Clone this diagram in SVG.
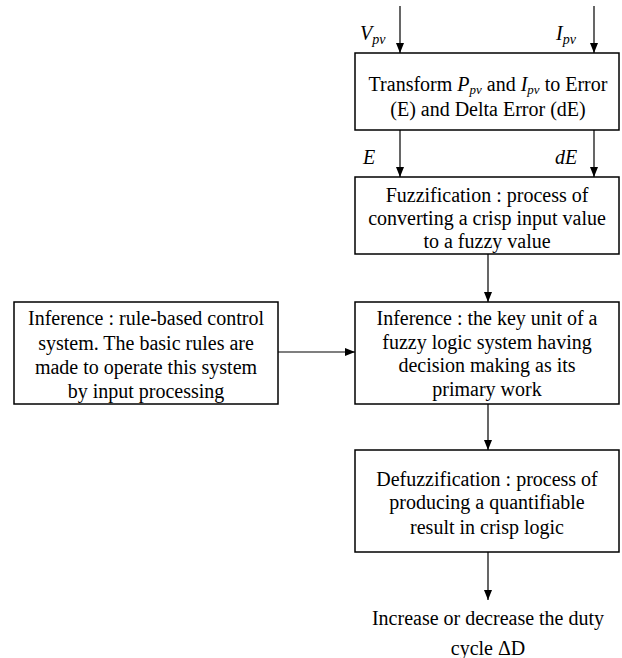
<svg xmlns="http://www.w3.org/2000/svg" width="622" height="658" viewBox="0 0 622 658">
<style>
.box{fill:#fff;stroke:#000;stroke-width:1.5}
.t{font-family:"Liberation Serif","Times New Roman",serif;font-size:20px;fill:#000;text-anchor:middle}
.i{font-family:"Liberation Serif","Times New Roman",serif;font-size:20px;font-style:italic;fill:#000}
.c{stroke:#000;stroke-width:1.2;fill:none;marker-end:url(#ah)}
</style>
<defs>
<marker id="ah" viewBox="0 0 10 10" refX="10" refY="5" markerWidth="10" markerHeight="10" markerUnits="userSpaceOnUse" orient="auto">
<path d="M0,1 L10,5 L0,9 Z" fill="#000"/>
</marker>
</defs>
<g id="connectors">
<line class="c" x1="400" y1="6" x2="400" y2="53"/>
<line class="c" x1="594" y1="6" x2="594" y2="53"/>
<line class="c" x1="400" y1="130" x2="400" y2="177"/>
<line class="c" x1="594" y1="130" x2="594" y2="177"/>
<line class="c" x1="488" y1="254" x2="488" y2="302"/>
<line class="c" x1="278" y1="352" x2="355" y2="352"/>
<line class="c" x1="488" y1="404" x2="488" y2="450"/>
<line class="c" x1="488" y1="552" x2="488" y2="600"/>
<text class="i" x="360" y="40">V<tspan font-size="14" dy="4">pv</tspan></text>
<text class="i" x="556" y="40">I<tspan font-size="14" dy="4">pv</tspan></text>
<text class="i" x="363" y="164">E</text>
<text class="i" x="555" y="164">dE</text>
</g>
<g id="transform">
<rect class="box" x="355" y="53" width="264" height="77"/>
<text class="t" x="488" y="91">Transform <tspan font-style="italic">P</tspan><tspan font-style="italic" font-size="13" dy="3">pv</tspan><tspan dy="-3"> and </tspan><tspan font-style="italic">I</tspan><tspan font-style="italic" font-size="13" dy="3">pv</tspan><tspan dy="-3"> to Error</tspan></text>
<text class="t" x="488" y="116">(E) and Delta Error (dE)</text>
</g>
<g id="fuzzification">
<rect class="box" x="355" y="177" width="264" height="77"/>
<text class="t" x="487" y="202">Fuzzification : process of</text>
<text class="t" x="487" y="225">converting a crisp input value</text>
<text class="t" x="487" y="248">to a fuzzy value</text>
</g>
<g id="rules">
<rect class="box" x="14" y="302" width="264" height="102"/>
<text class="t" x="146" y="325">Inference : rule-based control</text>
<text class="t" x="146" y="350">system. The basic rules are</text>
<text class="t" x="146" y="374">made to operate this system</text>
<text class="t" x="146" y="398">by input processing</text>
</g>
<g id="inference">
<rect class="box" x="355" y="302" width="264" height="102"/>
<text class="t" x="487" y="325">Inference : the key unit of a</text>
<text class="t" x="487" y="349">fuzzy logic system having</text>
<text class="t" x="487" y="372">decision making as its</text>
<text class="t" x="487" y="396">primary work</text>
</g>
<g id="defuzzification">
<rect class="box" x="355" y="450" width="264" height="102"/>
<text class="t" x="487" y="486">Defuzzification : process of</text>
<text class="t" x="487" y="509">producing a quantifiable</text>
<text class="t" x="487" y="534">result in crisp logic</text>
</g>
<g id="output">
<text class="t" x="488" y="625">Increase or decrease the duty</text>
<text class="t" x="488" y="655">cycle ΔD</text>
</g>
</svg>
